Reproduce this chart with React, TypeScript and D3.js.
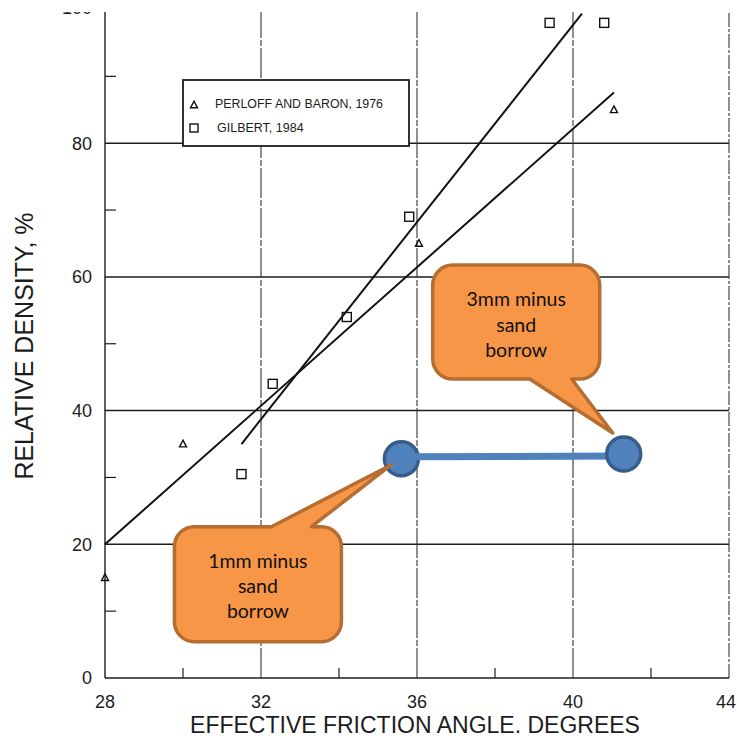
import React from "react";
import * as d3 from "d3";

const X_TICKS = [28, 32, 36, 40, 44];
const X_MINOR = [30, 34, 38, 42];
const Y_TICKS = [0, 20, 40, 60, 80, 100];
const Y_MINOR = [10, 30, 50, 70, 90];
const Y_GRID = [20, 40, 60, 80];
const X_GRID = [32, 36, 40, 44];

const PERLOFF_X = [28, 30, 36.05, 41.05];
const PERLOFF_Y = [15, 35, 65, 85];
const GILBERT_X = [31.5, 32.3, 34.2, 35.8, 39.4, 40.8];
const GILBERT_Y = [30.5, 44, 54, 69, 98, 98];

const PERLOFF_FIT_X = [28, 41.05];
const PERLOFF_FIT_Y = [20, 87.6];
const GILBERT_FIT_X = [31.5, 40.23];
const GILBERT_FIT_Y = [35, 99.4];

const BORROW_X = [35.6, 41.3];
const BORROW_Y = [32.8, 33.5];
const BORROW_LABELS = [
  ["1mm minus", "sand", "borrow"],
  ["3mm minus", "sand", "borrow"],
];

const LEGEND = ["PERLOFF AND BARON, 1976", "GILBERT, 1984"];

const W = 737;
const H = 740;

export default function App() {
  const x = d3.scaleLinear().domain([28, 44]).range([105, 729]);
  const y = d3.scaleLinear().domain([0, 100]).range([678, 9.5]);
  const line = d3
    .line<[number, number]>()
    .x((d) => x(d[0]))
    .y((d) => y(d[1]));
  const ink = "#1c1c1c";
  const font = "'Liberation Sans', Arial, sans-serif";

  const tri = (cx: number, cy: number, s = 7) =>
    `M${cx},${cy - s * 0.55}L${cx + s / 2},${cy + s * 0.4}L${cx - s / 2},${cy + s * 0.4}Z`;

  const callout = (
    x0: number,
    y0: number,
    x1: number,
    y1: number,
    r: number,
    side: "top" | "bottom",
    b1: number,
    b2: number,
    tx: number,
    ty: number
  ) => {
    let p = `M${x0 + r},${y0}`;
    if (side === "top") p += `H${b1}L${tx},${ty}L${b2},${y0}`;
    p += `H${x1 - r}A${r},${r} 0 0 1 ${x1},${y0 + r}V${y1 - r}A${r},${r} 0 0 1 ${x1 - r},${y1}`;
    if (side === "bottom") p += `H${b2}L${tx},${ty}L${b1},${y1}`;
    p += `H${x0 + r}A${r},${r} 0 0 1 ${x0},${y1 - r}V${y0 + r}A${r},${r} 0 0 1 ${x0 + r},${y0}Z`;
    return p;
  };

  const lx = x(BORROW_X[0]);
  const ly = y(BORROW_Y[0]);
  const rx = x(BORROW_X[1]);
  const ry = y(BORROW_Y[1]);

  const c2 = { x0: lx - 227, y0: ly + 68, w: 167, h: 115 };
  const c1 = { x0: rx - 191, y0: ry - 189, w: 167, h: 114 };

  return (
    <svg
      width={W}
      height={H}
      style={{ position: "absolute", left: 0, top: 0, background: "#fff" }}
    >
      <defs>
        <clipPath id="top">
          <rect x={0} y={12} width={W} height={H} />
        </clipPath>
      </defs>
      <rect width={W} height={H} fill="#fff" />
      <g clipPath="url(#top)">
        {Y_GRID.map((v) => (
          <line key={"hg" + v} x1={x(28)} x2={x(44)} y1={y(v)} y2={y(v)} stroke={ink} strokeWidth={1.5} />
        ))}
        {X_GRID.map((v) => (
          <line
            key={"vg" + v}
            x1={x(v)}
            x2={x(v)}
            y1={y(0)}
            y2={y(100)}
            stroke="#333"
            strokeWidth={1.1}
            strokeDasharray={v === 44 ? "14 2 3 2" : "30 2 6 2"}
          />
        ))}
        <line x1={x(28)} x2={x(28)} y1={y(0)} y2={y(100)} stroke={ink} strokeWidth={1.4} />
        <line x1={x(28)} x2={x(44)} y1={y(0)} y2={y(0)} stroke={ink} strokeWidth={1.6} />
        {Y_MINOR.map((v) => (
          <line key={"ym" + v} x1={x(28)} x2={x(28) + 11} y1={y(v)} y2={y(v)} stroke={ink} strokeWidth={1.2} />
        ))}
        {X_MINOR.map((v) => (
          <line key={"xm" + v} x1={x(v)} x2={x(v)} y1={y(0)} y2={y(0) - 10} stroke={ink} strokeWidth={1.2} />
        ))}
        {Y_TICKS.map((v) => (
          <text
            key={"yl" + v}
            x={92}
            y={v === 100 ? y(v) - 2 : y(v)}
            dy="0.36em"
            textAnchor="end"
            fontFamily={font}
            fontSize={18}
            fill={ink}
          >
            {v}
          </text>
        ))}
        <path
          d={line(PERLOFF_FIT_X.map((v, i) => [v, PERLOFF_FIT_Y[i]]) as [number, number][]) || ""}
          stroke="#111"
          strokeWidth={2}
          fill="none"
        />
        <path
          d={line(GILBERT_FIT_X.map((v, i) => [v, GILBERT_FIT_Y[i]]) as [number, number][]) || ""}
          stroke="#111"
          strokeWidth={2}
          fill="none"
        />
        {PERLOFF_X.map((v, i) => (
          <path key={"p" + i} d={tri(x(v), y(PERLOFF_Y[i]))} fill="none" stroke="#111" strokeWidth={1.4} />
        ))}
        {GILBERT_X.map((v, i) => (
          <rect
            key={"g" + i}
            x={x(v) - 4.5}
            y={y(GILBERT_Y[i]) - 4.5}
            width={9}
            height={9}
            fill="none"
            stroke="#111"
            strokeWidth={1.4}
          />
        ))}
      </g>

      {X_TICKS.map((v) => (
        <text
          key={"xl" + v}
          x={v === 44 ? x(v) - 3 : x(v)}
          y={708}
          textAnchor="middle"
          fontFamily={font}
          fontSize={18}
          fill={ink}
        >
          {v}
        </text>
      ))}
      <text x={415} y={733} textAnchor="middle" fontFamily={font} fontSize={23} fill={ink}>
        EFFECTIVE FRICTION ANGLE. DEGREES
      </text>
      <text
        transform={`translate(33,346) rotate(-90)`}
        textAnchor="middle"
        fontFamily={font}
        fontSize={25}
        fill={ink}
      >
        RELATIVE DENSITY, %
      </text>

      <rect x={183} y={80} width={226} height={66} fill="#fff" stroke={ink} strokeWidth={1.8} />
      <path d={tri(194, 105, 7)} fill="none" stroke="#111" strokeWidth={1.4} />
      <text x={215} y={108} fontFamily={font} fontSize={12.5} fill={ink} textLength={168} lengthAdjust="spacingAndGlyphs">
        {LEGEND[0]}
      </text>
      <rect x={190} y={124} width={8} height={8} fill="none" stroke="#111" strokeWidth={1.4} />
      <text x={217} y={132} fontFamily={font} fontSize={12.5} fill={ink}>
        {LEGEND[1]}
      </text>

      <circle cx={lx} cy={ly} r={17} fill="#4F81BD" stroke="#385D8A" strokeWidth={3.5} />
      <line x1={lx + 3} y1={ly - 2} x2={rx} y2={ry + 2} stroke="#4F81BD" strokeWidth={7} />
      <circle cx={rx} cy={ry} r={17} fill="#4F81BD" stroke="#385D8A" strokeWidth={3.5} />

      <path
        d={callout(c1.x0, c1.y0, c1.x0 + c1.w, c1.y0 + c1.h, 20, "bottom", c1.x0 + 97, c1.x0 + 139, rx - 11, ry - 21)}
        fill="#F79646"
        stroke="#B66D31"
        strokeWidth={3.5}
        strokeLinejoin="round"
      />
      {BORROW_LABELS[1].map((t, i) => (
        <text
          key={"c1" + i}
          x={c1.x0 + c1.w / 2}
          y={c1.y0 + 41 + i * 25.5}
          textAnchor="middle"
          fontFamily="Lato, 'Open Sans', sans-serif"
          fontSize={19.5}
          fill="#111"
        >
          {t}
        </text>
      ))}
      <path
        d={callout(c2.x0, c2.y0, c2.x0 + c2.w, c2.y0 + c2.h, 20, "top", c2.x0 + 97, c2.x0 + 137, lx - 10, ly + 6)}
        fill="#F79646"
        stroke="#B66D31"
        strokeWidth={3.5}
        strokeLinejoin="round"
      />
      {BORROW_LABELS[0].map((t, i) => (
        <text
          key={"c2" + i}
          x={c2.x0 + c2.w / 2}
          y={c2.y0 + 41 + i * 25}
          textAnchor="middle"
          fontFamily="Lato, 'Open Sans', sans-serif"
          fontSize={19.5}
          fill="#111"
        >
          {t}
        </text>
      ))}
    </svg>
  );
}
